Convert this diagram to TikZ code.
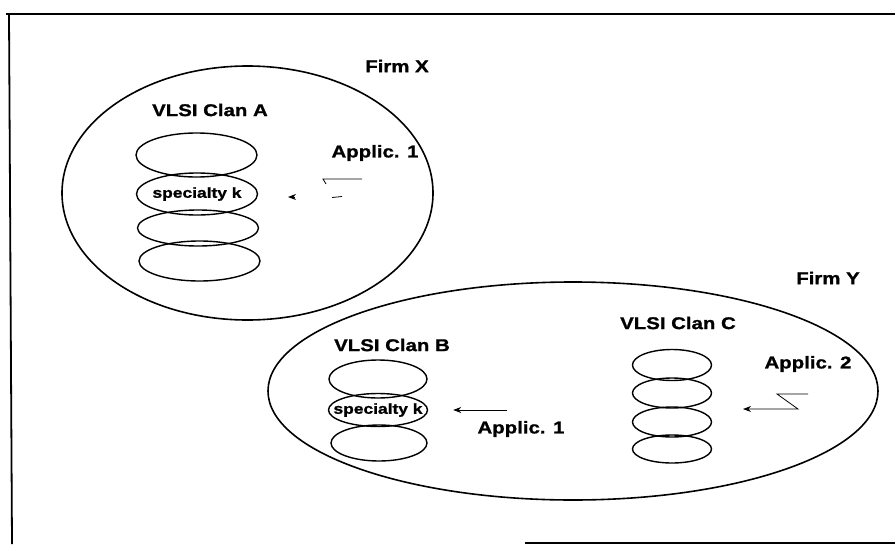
\documentclass[tikz,border=0pt]{standalone}
\usepackage{fontspec}
\setmainfont{Liberation Sans}[FakeStretch=1.2, BoldFeatures={FakeStretch=1.2, FakeBold=1.2}]
\usetikzlibrary{arrows.meta,shapes.geometric}
\tikzset{
  lbl/.style={font=\fontsize{17}{17}\selectfont\bfseries, inner sep=0pt},
  spec/.style={font=\fontsize{14.5}{14.5}\selectfont\bfseries, inner sep=0pt},
  disk/.style={draw, ellipse, line width=1.4pt, inner sep=0pt},
  firm/.style={draw, ellipse, line width=1.6pt, inner sep=0pt},
  arr/.style={line width=0.8pt, -{Stealth[length=8pt,width=6pt]}},
  frag/.style={line width=0.8pt}
}
\begin{document}
\begin{tikzpicture}[x=1pt,y=-1pt]
\useasboundingbox (0,0) rectangle (895,544);
% frame
\draw[line width=2.5pt] (6,14) -- (895,14);
\draw[line width=1.8pt] (9,14) -- (12,544);
\draw[line width=1.2pt] (525,543) -- (895,543);

% Firm X
\node[firm, minimum width=371pt, minimum height=254pt] (firmX) at (247.5,193) {};
\node[lbl] (fx) at (397,66) {Firm X};
\node[lbl] (clanA) at (210,110) {VLSI Clan A};
\node[disk, minimum width=121pt, minimum height=44pt] (a1) at (196.5,155) {};
\node[disk, minimum width=121pt, minimum height=42pt] (a2) at (197,194) {};
\node[disk, minimum width=121pt, minimum height=36pt] (a3) at (198,228) {};
\node[disk, minimum width=121pt, minimum height=40pt] (a4) at (199.5,261) {};
\node[spec] (ska) at (a2) {specialty k};
\node[lbl] (apA) at (375,153) {Applic. 1};
% broken arrow fragments
\coordinate (fa1) at (362,179);
\coordinate (fa2) at (323,179);
\coordinate (fa3) at (326,184);
\coordinate (fb1) at (332,197.5);
\coordinate (fb2) at (342,196.5);
\coordinate (fc1) at (295,197);
\coordinate (fc2) at (288,197);
\draw[frag] (fa1) -- (fa2) -- (fa3);
\draw[frag] (fb1) -- (fb2);
\draw[arr] (fc1) -- (fc2);

% Firm Y
\node[firm, minimum width=610pt, minimum height=218pt] (firmY) at (573,391) {};
\node[lbl] (fy) at (828,278) {Firm Y};
\node[lbl] (clanB) at (392,345) {VLSI Clan B};
\node[disk, minimum width=98pt, minimum height=38pt] (b1) at (378,379) {};
\node[disk, minimum width=99pt, minimum height=33pt] (b2) at (378,410) {};
\node[disk, minimum width=96pt, minimum height=36pt] (b3) at (379,443) {};
\node[spec] (skb) at (b2) {specialty k};
\node[lbl] (apB) at (521,429) {Applic. 1};
\coordinate (abs) at (507,410);
\draw[arr, shorten >=25pt] (abs) -- (b2.east);

\node[lbl] (clanC) at (678,323) {VLSI Clan C};
\node[disk, minimum width=79pt, minimum height=31pt] (c1) at (672,365) {};
\node[disk, minimum width=79pt, minimum height=30pt] (c2) at (672,393) {};
\node[disk, minimum width=79pt, minimum height=30pt] (c3) at (672,422) {};
\node[disk, minimum width=79pt, minimum height=28pt] (c4) at (672,449) {};
\node[lbl] (apC) at (808,364) {Applic. 2};
\coordinate (z1) at (808,394);
\coordinate (z2) at (777,394);
\coordinate (z3) at (798,409);
\coordinate (z4) at (743,409);
\draw[arr] (z1) -- (z2) -- (z3) -- (z4);
\end{tikzpicture}
\end{document}
